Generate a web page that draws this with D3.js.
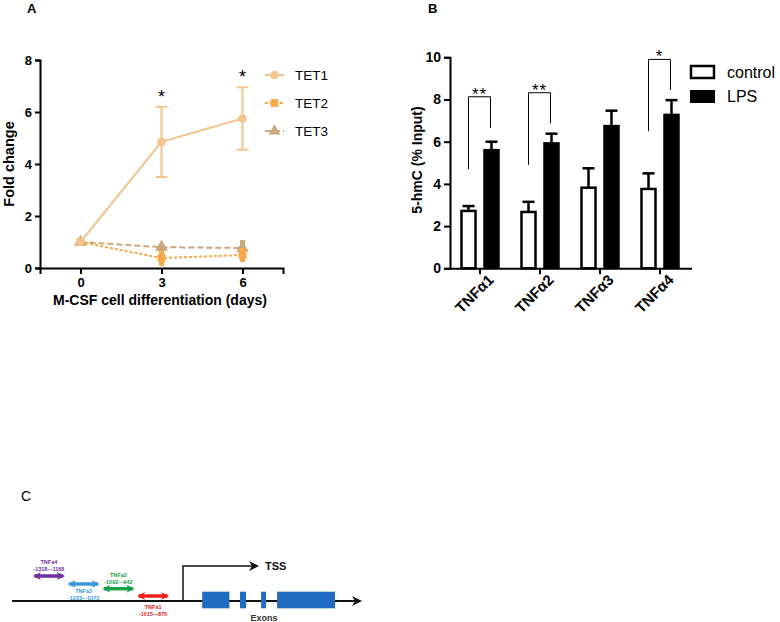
<!DOCTYPE html>
<html><head><meta charset="utf-8">
<script src="https://cdn.jsdelivr.net/npm/d3@7"></script>
<style>body{margin:0;background:#fff}svg{font-family:"Liberation Sans",Arial,sans-serif}</style>
</head><body>
<svg id="c" width="780" height="622"></svg>
<script>
// ---------- Panel A data ----------
const days = [0, 3, 6];
const aTicksY = [0, 2, 4, 6, 8];
const tet1 = [1.0, 4.85, 5.75];
const tet1Err = [0, 1.35, 1.2];
const tet2 = [1.0, 0.38, 0.5];
const tet2Err = [0, 0.3, 0.27];
const tet3 = [1.0, 0.8, 0.77];
const tet3Err = [0, 0.15, 0.3];
const aSeriesNames = ["TET1", "TET2", "TET3"];
const aStars = ["", "*", "*"];

// ---------- Panel B data ----------
const genes = ["TNFα1", "TNFα2", "TNFα3", "TNFα4"];
const control = [2.72, 2.67, 3.82, 3.76];
const controlErr = [0.23, 0.48, 0.92, 0.74];
const lps = [5.6, 5.92, 6.74, 7.27];
const lpsErr = [0.4, 0.46, 0.73, 0.7];
const bTicksY = [0, 2, 4, 6, 8, 10];
// brackets: [gene index, top, left bottom, right bottom, label]
const brackets = [[0, 8.13, 4.7, 6.65, "**"], [1, 8.32, 4.9, 6.87, "**"], [3, 9.9, 6.5, 8.45, "*"]];

// ---------- Panel C data (schematic) ----------
const amplicons = [
  {name: "TNFa4", range: "-1318~-1168", color: "#7030a0", slot: 0, lane: 0, labelPos: "above"},
  {name: "TNFa3", range: "-1223~-1073", color: "#3c9ad8", slot: 1, lane: 1, labelPos: "below"},
  {name: "TNFa2", range: "-1092~-942", color: "#18a04c", slot: 2, lane: 2, labelPos: "above"},
  {name: "TNFa1", range: "-1015~-875", color: "#e8201c", slot: 3, lane: 3, labelPos: "below"}
];
const exons = [[12, 29], [35.6, 39.4], [48.8, 51.9], [58.8, 95]];

const svg = d3.select("#c");
const colA = ["#f4c48e", "#f8a948", "#c9a87b"];

// ================= Panel A =================
svg.append("text").attr("x", 27).attr("y", 13).attr("font-size", 13).attr("font-weight", "bold").text("A");
const xA = d3.scaleLinear().domain([-1.5, 7.5]).range([40, 283]);
const yA = d3.scaleLinear().domain([0, 8]).range([268, 60]);
const gA = svg.append("g");
const axYA = gA.append("g").attr("transform", "translate(40,0)")
  .call(d3.axisLeft(yA).tickValues(aTicksY).tickSize(5).tickPadding(3).tickFormat(d3.format("d")));
const axXA = gA.append("g").attr("transform", "translate(0,268)")
  .call(d3.axisBottom(xA).tickValues(days).tickSize(6).tickPadding(4).tickFormat(d3.format("d")));
[axYA, axXA].forEach(a => {
  a.selectAll("path,line").attr("stroke", "#000").attr("stroke-width", 2);
  a.selectAll("text").attr("font-size", 13).attr("font-weight", "bold").attr("fill", "#000")
   .attr("font-family", "Liberation Sans, Arial, sans-serif");
});
gA.append("text").attr("transform", "translate(14,164) rotate(-90)").attr("text-anchor", "middle")
  .attr("font-size", 14.5).attr("font-weight", "bold").text("Fold change");
gA.append("text").attr("x", 160).attr("y", 305).attr("text-anchor", "middle")
  .attr("font-size", 14).attr("font-weight", "bold").text("M-CSF cell differentiation (days)");

const aSeries = [
  {v: tet1, e: tet1Err, dash: null, sym: d3.symbolCircle},
  {v: tet2, e: tet2Err, dash: "3,2", sym: d3.symbolSquare},
  {v: tet3, e: tet3Err, dash: "6,3", sym: d3.symbolTriangle}
];
const lineA = d3.line().x((d, i) => xA(days[i])).y(d => yA(d));
[2, 1, 0].forEach(k => {
  const s = aSeries[k];
  gA.append("path").datum(s.v).attr("d", lineA).attr("fill", "none").attr("stroke", colA[k])
    .attr("stroke-width", 2).attr("stroke-dasharray", s.dash);
  s.v.forEach((v, i) => {
    if (s.e[i] > 0) {
      const x = xA(days[i]);
      gA.append("line").attr("x1", x).attr("x2", x).attr("y1", yA(v + s.e[i])).attr("y2", yA(v - s.e[i]))
        .attr("stroke", colA[k]).attr("stroke-width", k === 0 ? 2 : 5);
      if (k === 0) {
        [v + s.e[i], v - s.e[i]].forEach(t => gA.append("line").attr("x1", x - 6).attr("x2", x + 6)
          .attr("y1", yA(t)).attr("y2", yA(t)).attr("stroke", colA[k]).attr("stroke-width", 2));
      }
    }
    gA.append("path").attr("d", d3.symbol().type(s.sym).size(k === 2 ? 70 : 60)())
      .attr("transform", `translate(${xA(days[i])},${yA(v)})`).attr("fill", colA[k]);
  });
});
days.forEach((d, i) => {
  if (aStars[i]) gA.append("text").attr("x", xA(d)).attr("y", yA(tet1[i] + tet1Err[i]) - 4)
    .attr("text-anchor", "middle").attr("font-size", 18).text(aStars[i]);
});
aSeriesNames.forEach((n, k) => {
  const y = 75 + k * 28;
  gA.append("line").attr("x1", 265).attr("x2", 284).attr("y1", y).attr("y2", y).attr("stroke", colA[k])
    .attr("stroke-width", 2).attr("stroke-dasharray", aSeries[k].dash);
  gA.append("path").attr("d", d3.symbol().type(aSeries[k].sym).size(60)())
    .attr("transform", `translate(274.5,${y})`).attr("fill", colA[k]);
  gA.append("text").attr("x", 295).attr("y", y + 5).attr("font-size", 13.5).text(n);
});

// ================= Panel B =================
svg.append("text").attr("x", 428).attr("y", 13).attr("font-size", 13).attr("font-weight", "bold").text("B");
const xB = d3.scaleBand().domain(genes).range([450, 690]);
const yB = d3.scaleLinear().domain([0, 10]).range([268.3, 57.3]);
const gB = svg.append("g");
const bw = 14, off = 11.5;
genes.forEach((g, i) => {
  const c = xB(g) + xB.bandwidth() / 2;
  gB.append("line").attr("x1", c - off).attr("x2", c - off).attr("y1", yB(control[i])).attr("y2", yB(control[i] + controlErr[i]))
    .attr("stroke", "#000").attr("stroke-width", 2.5);
  gB.append("line").attr("x1", c - off - 6).attr("x2", c - off + 6).attr("y1", yB(control[i] + controlErr[i])).attr("y2", yB(control[i] + controlErr[i]))
    .attr("stroke", "#000").attr("stroke-width", 2.5);
  gB.append("rect").attr("x", c - off - bw / 2).attr("width", bw).attr("y", yB(control[i])).attr("height", yB(0) - yB(control[i]))
    .attr("fill", "#fff").attr("stroke", "#000").attr("stroke-width", 2.5);
  gB.append("line").attr("x1", c + off).attr("x2", c + off).attr("y1", yB(lps[i])).attr("y2", yB(lps[i] + lpsErr[i]))
    .attr("stroke", "#000").attr("stroke-width", 2.5);
  gB.append("line").attr("x1", c + off - 6).attr("x2", c + off + 6).attr("y1", yB(lps[i] + lpsErr[i])).attr("y2", yB(lps[i] + lpsErr[i]))
    .attr("stroke", "#000").attr("stroke-width", 2.5);
  gB.append("rect").attr("x", c + off - (bw + 2.5) / 2).attr("width", bw + 2.5).attr("y", yB(lps[i]) - 1.25).attr("height", yB(0) - yB(lps[i]) + 1.25)
    .attr("fill", "#000");
});
const axYB = gB.append("g").attr("transform", "translate(450,0)")
  .call(d3.axisLeft(yB).tickValues(bTicksY).tickSize(6).tickPadding(3).tickFormat(d3.format("d")));
const axXB = gB.append("g").attr("transform", "translate(0,268.3)")
  .call(d3.axisBottom(xB).tickSize(6).tickSizeOuter(0));
[axYB, axXB].forEach(a => {
  a.selectAll("path,line").attr("stroke", "#000").attr("stroke-width", 2);
  a.selectAll("text").attr("font-size", 14).attr("font-weight", "bold").attr("fill", "#000")
   .attr("font-family", "Liberation Sans, Arial, sans-serif");
});
axXB.select(".domain").attr("d", "M450,0.5H692");
axXB.selectAll(".tick text").attr("font-size", 15).attr("text-anchor", "end")
  .attr("transform", "translate(5,3) rotate(-45)").attr("dy", "0.9em").attr("y", 0).attr("x", 0);
gB.append("text").attr("transform", "translate(422,160) rotate(-90)").attr("text-anchor", "middle")
  .attr("font-size", 14).attr("font-weight", "bold").text("5-hmC (% Input)");
brackets.forEach(([gi, top, lb, rb, lab]) => {
  const c = xB(genes[gi]) + xB.bandwidth() / 2;
  const xl = c - 11.5, xr = c + 10.5;
  gB.append("path").attr("d", `M${xl},${yB(lb)}V${yB(top)}H${xr}V${yB(rb)}`).attr("fill", "none")
    .attr("stroke", "#000").attr("stroke-width", 1);
  gB.append("text").attr("x", (xl + xr) / 2).attr("y", yB(top) + 3).attr("text-anchor", "middle")
    .attr("font-size", 17).attr("letter-spacing", 1).text(lab);
});
gB.append("rect").attr("x", 691).attr("y", 66).attr("width", 23).attr("height", 12).attr("fill", "#fff")
  .attr("stroke", "#000").attr("stroke-width", 2.5);
gB.append("rect").attr("x", 690).attr("y", 90).attr("width", 25).attr("height", 13).attr("fill", "#000");
gB.append("text").attr("x", 727).attr("y", 78).attr("font-size", 16).text("control");
gB.append("text").attr("x", 727).attr("y", 102).attr("font-size", 16).text("LPS");

// ================= Panel C =================
svg.append("text").attr("x", 21).attr("y", 501).attr("font-size", 14).text("C");
const gC = svg.append("g");
const slotC = d3.scaleBand().domain([0, 1, 2, 3]).range([31.5, 170.5]);
const exScale = d3.scaleLinear().domain([0, 100]).range([183, 343]);
const lineY = 601;
const defs = svg.append("defs");
function marker(id, color, w, h) {
  defs.append("marker").attr("id", id).attr("viewBox", "0 0 10 10").attr("refX", 8).attr("refY", 5)
    .attr("markerWidth", w).attr("markerHeight", h).attr("orient", "auto-start-reverse").attr("markerUnits", "userSpaceOnUse")
    .append("path").attr("d", "M0,0L10,5L0,10L3,5Z").attr("fill", color);
}
marker("ablack", "#111", 10, 10);
amplicons.forEach(a => marker("m" + a.name, a.color, 8, 8));
gC.append("line").attr("x1", 12).attr("x2", 360).attr("y1", lineY).attr("y2", lineY).attr("stroke", "#111")
  .attr("stroke-width", 2).attr("marker-end", "url(#ablack)");
gC.append("path").attr("d", `M183,${lineY}V566H257`).attr("fill", "none").attr("stroke", "#111").attr("stroke-width", 1.5)
  .attr("marker-end", "url(#ablack)");
gC.append("text").attr("x", 265).attr("y", 570).attr("font-size", 11).attr("font-weight", "bold").attr("fill", "#111").text("TSS");
exons.forEach(([s, e]) => gC.append("rect").attr("x", exScale(s)).attr("width", exScale(e) - exScale(s))
  .attr("y", 591.7).attr("height", 16.6).attr("fill", "#1f6cc0"));
gC.append("text").attr("x", 264).attr("y", 621).attr("text-anchor", "middle").attr("font-size", 9).attr("font-weight", "bold")
  .attr("fill", "#333").text("Exons");
const laneY = [576, 584, 588.7, 596];
amplicons.forEach(a => {
  const y = laneY[a.lane];
  const x0 = slotC(a.slot), x1 = x0 + slotC.bandwidth();
  gC.append("line").attr("x1", x0 + 3).attr("x2", x1 - 3).attr("y1", y).attr("y2", y).attr("stroke", a.color)
    .attr("stroke-width", 3.5).attr("marker-start", `url(#m${a.name})`).attr("marker-end", `url(#m${a.name})`);
  const cx = (x0 + x1) / 2;
  const ys = a.labelPos === "above" ? [y - 12, y - 5] : (a.lane === 3 ? [y + 13, y + 19.5] : [y + 9, y + 15.5]);
  gC.append("text").attr("x", cx).attr("y", ys[0]).attr("text-anchor", "middle").attr("font-size", 5.5)
    .attr("font-weight", "bold").attr("fill", a.color).text(a.name);
  gC.append("text").attr("x", cx).attr("y", ys[1]).attr("text-anchor", "middle").attr("font-size", 5.5)
    .attr("font-weight", "bold").attr("fill", a.color).text(a.range);
});
</script>
</body></html>
